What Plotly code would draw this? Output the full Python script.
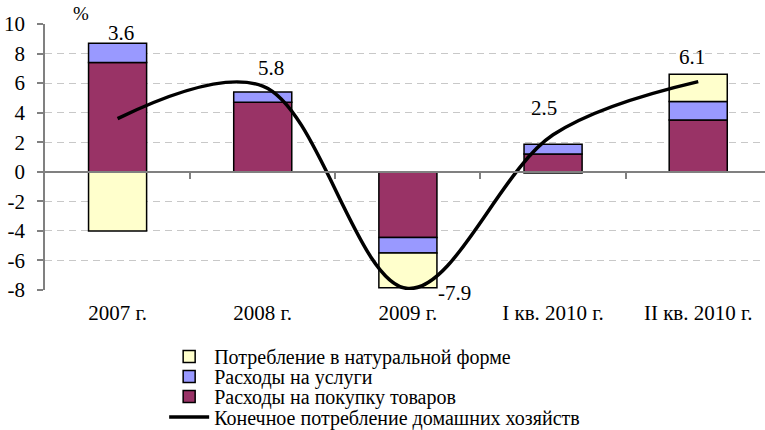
import plotly.graph_objects as go

categories = ["2007 г.", "2008 г.", "2009 г.", "I кв. 2010 г.", "II кв. 2010 г."]
goods = [7.4, 4.7, -4.45, 1.2, 3.5]
services = [1.3, 0.7, -1.05, 0.67, 1.25]
natural = [-4.0, None, -2.35, -0.08, 1.85]
total = [3.6, 5.8, -7.9, 2.5, 6.1]
total_labels = ["3.6", "5.8", "-7.9", "2.5", "6.1"]
ytick_vals = [-8, -6, -4, -2, 0, 2, 4, 6, 8, 10]
ytick_text = ["-8", "-6", "-4", "-2", "0", "2", "4", "6", "8", "10"]

label_dx = [3, 8, 47, -9, -6]
label_dy = [86, 18, -4, 27, 25]

FONT = "Liberation Serif, Times New Roman, serif"
FS = 21
LFS = 20

fig = go.Figure()
fig.add_trace(go.Bar(x=categories, y=goods, name="Расходы на покупку товаров",
                     marker=dict(color="#993366", line=dict(color="black", width=1.5)),
                     width=0.4, legend="legend3"))
fig.add_trace(go.Bar(x=categories, y=services, name="Расходы на услуги",
                     marker=dict(color="#9999FF", line=dict(color="black", width=1.5)),
                     width=0.4, legend="legend2"))
fig.add_trace(go.Bar(x=categories, y=natural, name="Потребление в натуральной форме",
                     marker=dict(color="#FFFFCC", line=dict(color="black", width=1.5)),
                     width=0.4, legend="legend"))
fig.add_trace(go.Scatter(x=categories, y=total, name="Конечное потребление домашних хозяйств",
                         mode="lines", line=dict(color="black", width=3.5, shape="spline", smoothing=1.0),
                         legend="legend4"))
# helper invisible trace for the zero-level category axis
fig.add_trace(go.Scatter(x=[0], y=[0], xaxis="x2", yaxis="y", mode="markers",
                         marker=dict(opacity=0), showlegend=False, hoverinfo="skip"))

for c, v, t, dx, dy in zip(categories, total, total_labels, label_dx, label_dy):
    fig.add_annotation(x=c, y=v, text=t, showarrow=False, xshift=dx, yshift=dy,
                       font=dict(family=FONT, size=FS, color="black"))

fig.add_annotation(xref="paper", yref="y", x=0.036, y=10, yshift=11, text="%",
                   showarrow=False, font=dict(family=FONT, size=FS - 2, color="black"))

ymin, ymax = -8, 10
xr = [-0.5, 4.46]
leg_x = 0.1655
leg_rows = [-0.25, -0.3252, -0.4004, -0.4774]


def leg(y):
    return dict(x=leg_x, y=y, xanchor="left", yanchor="middle", bgcolor="rgba(0,0,0,0)",
                font=dict(family=FONT, size=LFS), itemwidth=40, borderwidth=0)


fig.update_layout(
    width=765, height=430,
    margin=dict(l=45, r=0, t=24, b=140, autoexpand=False),
    paper_bgcolor="white", plot_bgcolor="white",
    barmode="relative",
    font=dict(family=FONT, size=FS, color="black"),
    showlegend=True,
    legend=leg(leg_rows[0]),
    legend2=leg(leg_rows[1]),
    legend3=leg(leg_rows[2]),
    legend4=leg(leg_rows[3]),
    xaxis=dict(type="category", range=xr, showline=False, ticks="", showgrid=False,
               automargin=False, ticklabelstandoff=8,
               tickfont=dict(family=FONT, size=FS)),
    xaxis2=dict(overlaying="x", anchor="free", position=(0 - ymin) / (ymax - ymin),
                range=xr, showline=True, linecolor="#808080", linewidth=1.5,
                tickvals=[0.5, 1.5, 2.5, 3.5], ticks="outside", ticklen=6,
                tickcolor="#808080", tickwidth=1.5, showticklabels=False, showgrid=False,
                zeroline=False, side="bottom", automargin=False),
    yaxis=dict(range=[ymin, ymax], tickvals=ytick_vals, ticktext=ytick_text,
               showline=True, linecolor="#808080", linewidth=1.5,
               ticks="outside", ticklen=6, tickcolor="#808080", tickwidth=1.5,
               showgrid=True, gridcolor="#c8c8c8", griddash="7px,5px", gridwidth=1,
               zeroline=False, automargin=False, ticklabelstandoff=8,
               tickfont=dict(family=FONT, size=FS)),
)

fig.write_html("out.html", config={"displayModeBar": False},
               post_script="document.body.style.margin='0';")
